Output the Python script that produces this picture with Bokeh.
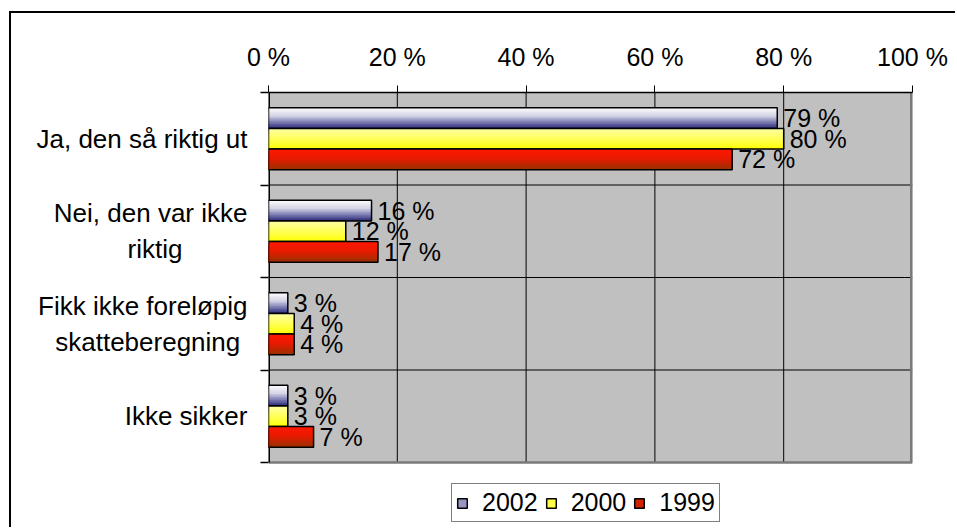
from bokeh.plotting import figure
from bokeh.models import FixedTicker, Legend, LegendItem, ColumnDataSource, Range1d
from bokeh.core.properties import value
from bokeh.embed import file_html
from bokeh.resources import INLINE

NB = "\u00a0"
# ---- data ----
categories = ["Ja, den så riktig ut", "Nei, den var ikke\nriktig" + NB * 9,
              "Fikk ikke foreløpig\nskatteberegning" + NB, "Ikke sikker"]
years = ["2002", "2000", "1999"]
v2002 = [79, 16, 3, 3]
v2000 = [80, 12, 4, 3]
v1999 = [72, 17, 4, 7]
x_ticks = [0, 20, 40, 60, 80, 100]
x_tick_labels = ["0 %", "20 %", "40 %", "60 %", "80 %", "100 %"]

FONT = "Liberation Sans"
FS = "25px"
FS_CAT = "26px"

series = [
    (years[0], v2002, [(0.0, "#ffffff"), (0.4, "#d4d4e6"), (0.7, "#7c7cb2"), (1.0, "#262676")]),
    (years[1], v2000, [(0.0, "#ffffa8"), (0.6, "#ffff48"), (1.0, "#ffff00")]),
    (years[2], v1999, [(0.0, "#ff1800"), (0.45, "#e81a00"), (1.0, "#963200")]),
]

def hex2rgb(h):
    h = h.lstrip("#")
    return tuple(int(h[i:i + 2], 16) for i in (0, 2, 4))

def grad(stops, t):
    for (t0, c0), (t1, c1) in zip(stops[:-1], stops[1:]):
        if t0 <= t <= t1:
            f = (t - t0) / (t1 - t0) if t1 > t0 else 0
            a, b = hex2rgb(c0), hex2rgb(c1)
            return "#%02x%02x%02x" % tuple(int(round(a[i] + (b[i] - a[i]) * f)) for i in range(3))
    return stops[-1][1]

n = len(categories)
cat_pos = [n - 1 - i for i in range(n)]
BAR_H = 0.224
offsets = [BAR_H, 0.0, -BAR_H]
y_top = n - 0.5
y_bot = -0.5
# frame extends below the plot area so that the legend can sit there
PX_PER_CAT = 92.5
FRAME_H = 433
y_min = y_top - FRAME_H / PX_PER_CAT

p = figure(width=946, height=516, output_backend="svg", toolbar_location=None,
           x_range=Range1d(x_ticks[0], x_ticks[-1]), y_range=Range1d(y_min, y_top),
           x_axis_location="above",
           min_border_left=257, min_border_right=45, min_border_top=79, min_border_bottom=4)
p.styles = {"margin-left": "9px", "margin-top": "11px",
            "border-left": "2px solid black", "border-top": "2px solid black"}

p.background_fill_color = "white"
p.border_fill_color = "white"
p.outline_line_color = None
p.grid.visible = False

# plot area background
p.quad(left=x_ticks[0], right=x_ticks[-1], bottom=y_bot, top=y_top,
       fill_color="#c0c0c0", line_color=None)
# gridlines
gx = x_ticks[1:-1]
p.segment(x0=gx, y0=[y_bot] * len(gx), x1=gx, y1=[y_top] * len(gx),
          line_color="black", line_width=1)
gy = [i + 0.5 for i in range(n - 1)]
p.segment(x0=[x_ticks[0]] * len(gy), y0=gy, x1=[x_ticks[-1]] * len(gy), y1=gy,
          line_color="black", line_width=1)
# plot area edges
p.segment(x0=[x_ticks[-1]], y0=[y_bot], x1=[x_ticks[-1]], y1=[y_top],
          line_color="#7a7a7a", line_width=5)
p.segment(x0=[x_ticks[0]], y0=[y_bot], x1=[x_ticks[-1]], y1=[y_bot],
          line_color="#7a7a7a", line_width=2.5)
p.segment(x0=[x_ticks[0]], y0=[y_bot], x1=[x_ticks[0]], y1=[y_top],
          line_color="black", line_width=3)

# x axis (top)
xa = p.xaxis[0]
xa.ticker = FixedTicker(ticks=x_ticks, minor_ticks=[])
xa.major_label_overrides = {t: l for t, l in zip(x_ticks, x_tick_labels)}
xa.major_tick_out = 7
xa.major_tick_in = 0
xa.major_tick_line_color = "black"
xa.axis_line_color = "black"
xa.axis_line_width = 1.5
xa.major_label_text_font = FONT
xa.major_label_text_font_size = FS
xa.major_label_text_color = "black"
xa.major_label_standoff = 15

# y axis (left)
ya = p.yaxis[0]
ya.ticker = FixedTicker(ticks=cat_pos, minor_ticks=[i - 0.5 for i in range(n + 1)])
ya.major_label_overrides = {pos: c for pos, c in zip(cat_pos, categories)}
ya.major_tick_line_color = None
ya.major_tick_out = 0
ya.major_tick_in = 0
ya.minor_tick_out = 8
ya.minor_tick_in = 0
ya.minor_tick_line_color = "black"
ya.minor_tick_line_width = 1.5
ya.axis_line_color = None
ya.major_label_text_font = FONT
ya.major_label_text_font_size = FS_CAT
ya.major_label_text_color = "black"
ya.major_label_standoff = 13

legend_items = []
NSTRIP = 14
for (name, vals, stops), off in zip(series, offsets):
    centers = [c + off for c in cat_pos]
    bottoms = [c - BAR_H / 2 for c in centers]
    strips = []
    for k in range(NSTRIP):
        t = (k + 0.5) / NSTRIP
        tops = [c + BAR_H / 2 - k * BAR_H / NSTRIP for c in centers]
        strips.append(p.hbar(y=[(a + b) / 2 for a, b in zip(tops, bottoms)], left=0, right=vals,
                             height=[a - b for a, b in zip(tops, bottoms)],
                             fill_color=grad(stops, t), line_color=None))
    outline = p.hbar(y=centers, left=0, right=vals, height=BAR_H,
                     fill_alpha=0, line_color="black", line_width=1.5)
    src = ColumnDataSource(dict(x=vals, y=centers, t=[f"{v} %" for v in vals]))
    p.text(x="x", y="y", text="t", source=src, x_offset=6,
           text_baseline="middle", text_align="left",
           text_font=value(FONT), text_font_size=FS, text_color="black")
    legend_items.append(LegendItem(label=name, renderers=[strips[NSTRIP * 6 // 10], outline]))

legend = Legend(items=legend_items, orientation="horizontal", location=(183, 3),
                glyph_width=12, glyph_height=12, label_text_font=FONT,
                label_text_font_size=FS, label_text_color="black",
                padding=4, spacing=7, label_standoff=14, margin=0,
                border_line_color="black", border_line_width=1.5,
                background_fill_color="white", background_fill_alpha=1)
p.add_layout(legend)

open("out.html", "w").write(file_html(p, INLINE))
